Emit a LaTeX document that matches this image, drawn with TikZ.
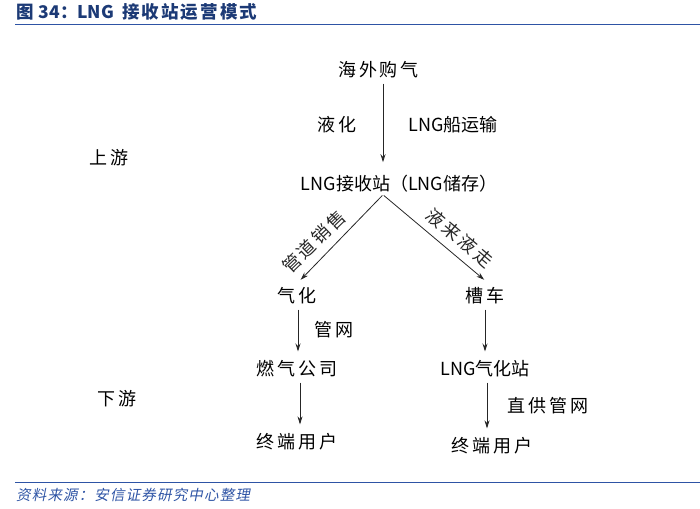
\documentclass[tikz,border=0pt]{standalone}
\usepackage{fontspec}
\setmainfont{Noto Sans CJK SC}
\newfontfamily\widecjk{Noto Sans CJK SC}[LetterSpace=15]
\newfontfamily\titlecjk{Noto Sans CJK SC}[LetterSpace=12]
\newfontfamily\srcfont{Noto Sans CJK SC}[FakeSlant=0.2, LetterSpace=8]
\usepackage{xcolor}
\usetikzlibrary{arrows.meta, positioning}
\definecolor{titleblue}{RGB}{28, 58, 118}
\definecolor{ruleblue}{RGB}{46, 84, 165}

\begin{document}
\begin{tikzpicture}[
    x=1pt, y=1pt,
    node distance=73pt, on grid,
    stage/.style={font=\fontsize{18}{20}\selectfont\widecjk, inner sep=4pt},
    lngstage/.style={font=\fontsize{18}{20}\selectfont, inner sep=4pt},
    tier/.style={font=\fontsize{18}{20}\selectfont\widecjk, inner sep=2pt},
    slopelbl/.style={font=\fontsize{18}{20}\selectfont\widecjk, inner sep=8pt, anchor=south},
    arr/.style={-{Stealth[length=8pt, width=5pt]}, line width=0.8pt, black!85,
                shorten <=1pt, shorten >=5pt},
    rule/.style={ruleblue, line width=1pt}
]
\useasboundingbox (0,0) rectangle (700,-508);

% Title and source
\node[anchor=west, text=titleblue, font=\fontsize{17.5}{19}\selectfont\bfseries, inner sep=0pt]
    (title) at (16,-12) {图\hspace{5pt}34：LNG\hspace{8pt}{\titlecjk\bfseries 接收站运营模式}};
\draw[rule] (15,-25) -- (700,-25);
\draw[rule] (15,-482) -- (700,-482);
\node[anchor=west, text=ruleblue, font=\fontsize{14.5}{16}\selectfont\srcfont, inner sep=0pt]
    (source) at (16,-495) {资料来源：安信证券研究中心整理};

% Nodes
\node[stage] (buy) at (378.5,-70) {海外购气};
\node[stage,    below left=55pt and 41.5pt of buy]   (liquefy) {液化};
\node[lngstage, below right=55pt and 74.5pt of buy]  (ship)    {LNG船运输};
\node[lngstage, below right=114pt and 20.5pt of buy] (recv)    {LNG接收站（LNG储存）};
\node[tier,     below left=33pt and 228pt of liquefy] (upper)  {上游};
\node[stage,    below left=112pt and 102pt of recv]  (gasify)  {气化};
\node[stage,    below right=112pt and 86pt of recv]  (tanker)  {槽车};
\node[stage,    below=73pt of gasify]  (gasco)   {燃气公司};
\node[stage,    below right=34pt and 37pt of gasify] (grid) {管网};
\node[stage,    below=73pt of gasco]   (userL)   {终端用户};
\node[lngstage, below=73pt of tanker]  (station) {LNG气化站};
\node[stage,    below right=37pt and 63pt of station] (direct) {直供管网};
\node[stage,    below right=77pt and 7pt of station]  (userR)  {终端用户};
\node[tier,     below left=30pt and 180pt of gasco]   (lower)  {下游};
\coordinate (apex) at ([xshift=-16pt,yshift=2pt]recv.south);

% Arrows
\draw[arr, shorten >=9pt] ([xshift=4.5pt]buy.south) -- ([xshift=4.5pt]buy.south |- recv.north);
\draw[arr, shorten >=1pt] (apex) -- node[slopelbl, pos=0.69, rotate=44]{管道销售} ([xshift=3pt,yshift=3pt]gasify.north);
\draw[arr, shorten >=1pt] (apex) -- node[slopelbl, pos=0.65, rotate=-40]{液来液走} ([yshift=3pt]tanker.north);
\draw[arr] ([xshift=1pt]gasify.south) -- ([xshift=1pt]gasify.south |- gasco.north);
\draw[arr] ([xshift=3pt]gasco.south) -- ([xshift=3pt]gasco.south |- userL.north);
\draw[arr] (tanker.south) -- (tanker.south |- station.north);
\draw[arr] ([xshift=2pt]station.south) -- ([xshift=2pt]station.south |- userR.north);

\end{tikzpicture}
\end{document}
